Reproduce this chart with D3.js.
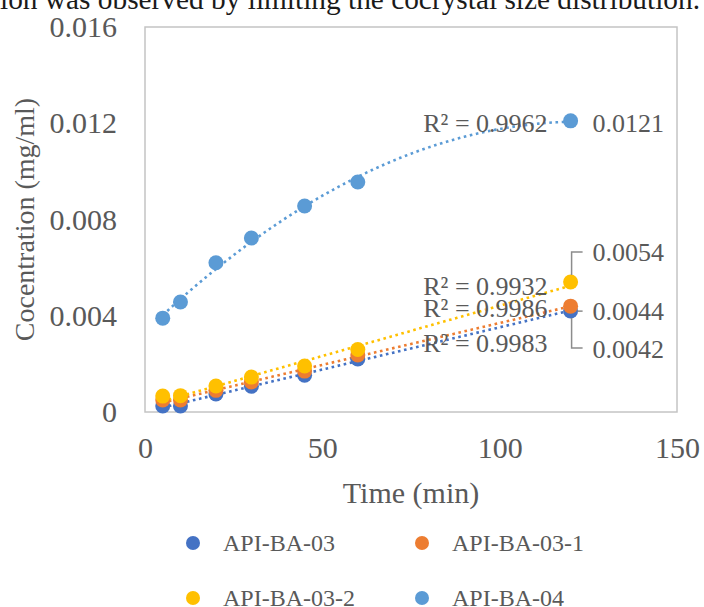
<!DOCTYPE html>
<html>
<head>
<meta charset="utf-8">
<script src="https://cdn.jsdelivr.net/npm/d3@7"></script>
<style>
  html, body { margin: 0; padding: 0; background: #fff; overflow: hidden; }
  svg { display: block; font-family: "Liberation Serif", "Times New Roman", serif; }
</style>
</head>
<body>
<svg id="chart" width="704" height="607"></svg>
<script>
// Sampling times (min)
const times = [5, 10, 20, 30, 45, 60, 120];

// Concentration (mg/ml) per sample
const api03 = [0.00025, 0.00025, 0.00075, 0.00107, 0.00153, 0.0022, 0.0042];
const api031 = [0.0005, 0.0005, 0.0009, 0.00125, 0.0017, 0.00237, 0.0044];
const api032 = [0.00066, 0.00068, 0.00108, 0.00145, 0.00191, 0.0026, 0.0054];
const api04 = [0.0039, 0.00457, 0.0062, 0.00723, 0.00856, 0.00956, 0.0121];

const seriesNames = ['API-BA-03', 'API-BA-03-1', 'API-BA-03-2', 'API-BA-04'];
const seriesValues = [api03, api031, api032, api04];
const seriesColors = ['#4472C4', '#ED7D31', '#FFC000', '#5B9BD5'];
const trendTypes = ['linear', 'linear', 'linear', 'poly2'];
const rSquared = ['0.9983', '0.9986', '0.9932', '0.9962'];

const xTicks = [0, 50, 100, 150];
const yTicks = [0, 0.004, 0.008, 0.012, 0.016];

const svg = d3.select('#chart');
const plot = { left: 145, right: 677, top: 27, bottom: 412 };

const x = d3.scaleLinear().domain([0, 150]).range([plot.left, plot.right]);
const y = d3.scaleLinear().domain([0, 0.016]).range([plot.bottom, plot.top]);

const textGray = '#595959';

// cropped line of body text above the figure
svg.append('text')
    .attr('x', 0)
    .attr('y', 9)
    .attr('font-size', '29px')
    .attr('fill', '#1a1a1a')
    .attr('textLength', 700)
    .attr('lengthAdjust', 'spacingAndGlyphs')
    .text('ion was observed by limiting the cocrystal size distribution.');

// plot frame
svg.append('rect')
    .attr('x', plot.left)
    .attr('y', plot.top)
    .attr('width', plot.right - plot.left)
    .attr('height', plot.bottom - plot.top)
    .attr('fill', 'none')
    .attr('stroke', '#c4c4c4')
    .attr('stroke-width', 1.5);

// axes
const yAxis = svg.append('g')
    .attr('transform', `translate(${plot.left},0)`)
    .call(d3.axisLeft(y)
        .tickValues(yTicks)
        .tickSize(0)
        .tickPadding(28)
        .tickFormat(d => d === 0 ? '0' : d3.format('.3f')(d)));

const xAxis = svg.append('g')
    .attr('transform', `translate(0,${plot.bottom})`)
    .call(d3.axisBottom(x)
        .tickValues(xTicks)
        .tickSize(0)
        .tickPadding(25)
        .tickFormat(d3.format('d')));

[yAxis, xAxis].forEach(ax => {
    ax.select('.domain').remove();
    ax.selectAll('text')
        .attr('font-family', '"Liberation Serif", "Times New Roman", serif')
        .attr('font-size', '30px')
        .attr('fill', textGray);
});

// axis titles
svg.append('text')
    .attr('x', (plot.left + plot.right) / 2)
    .attr('y', 503)
    .attr('text-anchor', 'middle')
    .attr('font-size', '30px')
    .attr('fill', textGray)
    .text('Time (min)');

svg.append('text')
    .attr('transform', `translate(34,${(plot.top + plot.bottom) / 2}) rotate(-90)`)
    .attr('text-anchor', 'middle')
    .attr('font-size', '28px')
    .attr('fill', textGray)
    .text('Cocentration (mg/ml)');

// least squares fits
function fitLinear(xs, ys) {
    const mx = d3.mean(xs), my = d3.mean(ys);
    const b = d3.sum(xs, (v, i) => (v - mx) * (ys[i] - my)) / d3.sum(xs, v => (v - mx) ** 2);
    const a = my - b * mx;
    return t => a + b * t;
}

function fitPoly2(xs, ys) {
    // normal equations for y = c0 + c1 x + c2 x^2
    const s = k => d3.sum(xs, v => v ** k);
    const t = k => d3.sum(xs, (v, i) => ys[i] * v ** k);
    const m = [
        [s(0), s(1), s(2), t(0)],
        [s(1), s(2), s(3), t(1)],
        [s(2), s(3), s(4), t(2)]
    ];
    for (let i = 0; i < 3; i++) {
        for (let j = i + 1; j < 3; j++) {
            const f = m[j][i] / m[i][i];
            for (let k = i; k < 4; k++) m[j][k] -= f * m[i][k];
        }
    }
    const c = [0, 0, 0];
    for (let i = 2; i >= 0; i--) {
        let acc = m[i][3];
        for (let k = i + 1; k < 3; k++) acc -= m[i][k] * c[k];
        c[i] = acc / m[i][i];
    }
    return v => c[0] + c[1] * v + c[2] * v * v;
}

const line = d3.line().x(d => x(d[0])).y(d => y(d[1]));
const tMin = d3.min(times), tMax = d3.max(times);
const samples = d3.range(tMin, tMax, 1).concat([tMax]);

// trendlines first, markers on top
seriesValues.forEach((vals, i) => {
    const f = trendTypes[i] === 'poly2' ? fitPoly2(times, vals) : fitLinear(times, vals);
    svg.append('path')
        .datum(samples.map(t => [t, f(t)]))
        .attr('d', line)
        .attr('fill', 'none')
        .attr('stroke', seriesColors[i])
        .attr('stroke-width', 2.6)
        .attr('stroke-dasharray', '2.6,3.6');
});

seriesValues.forEach((vals, i) => {
    svg.append('g')
        .selectAll('circle')
        .data(vals.map((v, j) => [times[j], v]))
        .join('circle')
        .attr('cx', d => x(d[0]))
        .attr('cy', d => y(d[1]))
        .attr('r', 7.5)
        .attr('fill', seriesColors[i]);
});

// R² labels and end-point value labels (offsets are layout only)
const rLabelDy = [41, 11, 13, 11];
const valueLabelDy = [47, 14, -21, 11];
const lastX = x(tMax);

seriesValues.forEach((vals, i) => {
    const yEnd = y(vals[vals.length - 1]);
    svg.append('text')
        .attr('x', lastX - 23)
        .attr('y', yEnd + rLabelDy[i])
        .attr('text-anchor', 'end')
        .attr('font-size', '26px')
        .attr('fill', textGray)
        .text(`R² = ${rSquared[i]}`);

    svg.append('text')
        .attr('x', lastX + 22)
        .attr('y', yEnd + valueLabelDy[i])
        .attr('font-size', '26px')
        .attr('fill', textGray)
        .text(d3.format('.4f')(vals[vals.length - 1]));
});

// leader lines for the stacked labels
const leaderColor = '#8c8c8c';
const leaders = [
    { s: 2, y1: -7, y2: -30 },
    { s: 0, y1: 7, y2: 37 }
];
leaders.forEach(l => {
    const yEnd = y(seriesValues[l.s][times.length - 1]);
    svg.append('path')
        .attr('d', `M${lastX + 1},${yEnd + l.y1}V${yEnd + l.y2}H${lastX + 12}`)
        .attr('fill', 'none')
        .attr('stroke', leaderColor)
        .attr('stroke-width', 1.5);
});
{
    const yEnd = y(api031[times.length - 1]);
    svg.append('path')
        .attr('d', `M${lastX + 7},${yEnd + 5}H${lastX + 12}`)
        .attr('stroke', leaderColor)
        .attr('stroke-width', 1.5);
}

// legend
const legendPos = [[193, 543], [422, 543], [193, 598], [422, 598]];
const legend = svg.append('g')
    .selectAll('g')
    .data(seriesNames)
    .join('g')
    .attr('transform', (d, i) => `translate(${legendPos[i][0]},${legendPos[i][1]})`);

legend.append('circle')
    .attr('r', 7)
    .attr('fill', (d, i) => seriesColors[i]);

legend.append('text')
    .attr('x', 30)
    .attr('dy', '0.35em')
    .attr('font-size', '24px')
    .attr('fill', textGray)
    .text(d => d);
</script>
</body>
</html>
